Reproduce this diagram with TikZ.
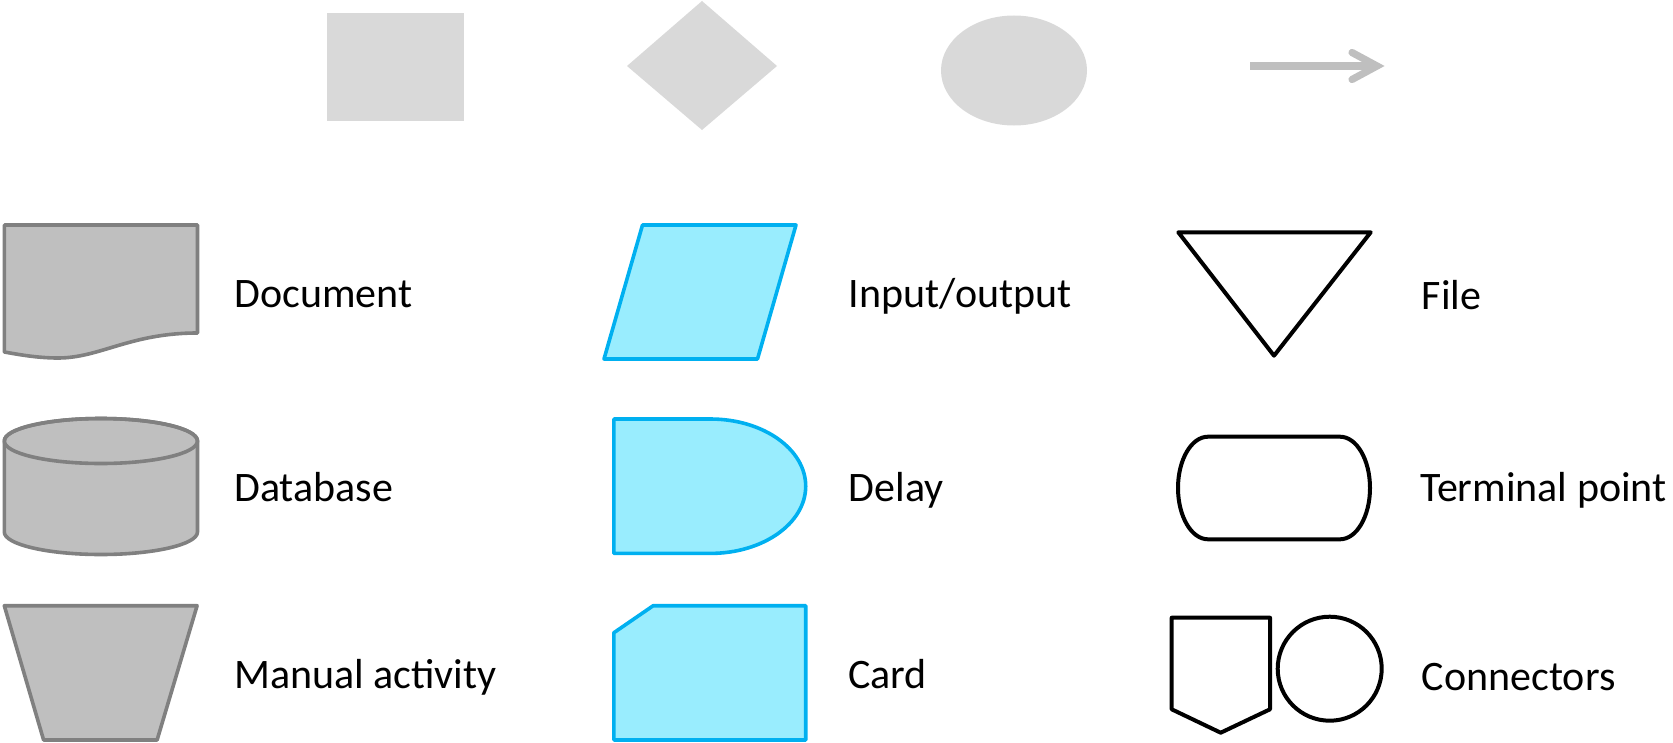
\documentclass[tikz,border=0pt]{standalone}
\usepackage{fontspec}
\setmainfont{Carlito}
\definecolor{topgray}{HTML}{D9D9D9}
\definecolor{arrowgray}{HTML}{BFBFBF}
\definecolor{shapegray}{HTML}{BFBFBF}
\definecolor{edgegray}{HTML}{808080}
\definecolor{cyanedge}{HTML}{00B0F0}
\definecolor{cyanfill}{RGB}{153,237,254}
\tikzset{
  graybox/.style={fill=shapegray,draw=edgegray,line width=2.7pt,line join=round},
  cyanbox/.style={fill=cyanfill,draw=cyanedge,line width=2.7pt,line join=round},
  blackbox/.style={draw=black,line width=3pt,line join=round},
  lbl/.style={anchor=base west,inner sep=0pt,font=\fontsize{31.5}{36}\selectfont},
}
\begin{document}
\begin{tikzpicture}[x=0.75pt,y=-0.75pt]
\useasboundingbox (0,0) rectangle (1673,742);

% basic symbols along the top
\fill[topgray] (326.5,12.8) rectangle (464,120.6);
\fill[topgray] (702,1) -- (777,66) -- (702,130) -- (627,66) -- cycle;
\fill[topgray] (1014,70.5) ellipse [x radius=73*0.75pt, y radius=55*0.75pt];
\coordinate (ar0) at (1250,66);
\coordinate (ar1) at (1374,66);
\draw[arrowgray,line width=5.4pt] (ar0) -- (ar1);
\draw[arrowgray,line width=5.4pt,line cap=round,line join=miter] (1352,52.5) -- (1377,66) -- (1352,79.5);

% left column
\draw[graybox] (4.3,225) -- (197.5,225) -- (197.5,333)
  .. controls (130,333) and (100,358) .. (58,358)
  .. controls (36,358) and (16,354) .. (4.3,352) -- cycle;
\node[lbl] (doc) at (234,307.5) {Document};

\draw[graybox] (4.3,441) -- (4.3,532)
  arc [start angle=180, end angle=360, x radius=96.6*0.75pt, y radius=22.5*0.75pt]
  -- (197.5,441)
  arc [start angle=0, end angle=180, x radius=96.6*0.75pt, y radius=22.5*0.75pt];
\draw[graybox,fill=none] (100.9,441) ellipse [x radius=96.6*0.75pt, y radius=22.5*0.75pt];
\node[lbl] (db) at (234,501) {Database};

\draw[graybox] (4.3,605.7) -- (197.1,605.7) -- (157.1,740) -- (43.6,740) -- cycle;
\node[lbl] (man) at (234,688.5) {Manual activity};

% middle column
\draw[cyanbox] (642.5,225) -- (796,225) -- (757.5,359) -- (604,359) -- cycle;
\node[lbl] (io) at (848.6,307.5) {Input/output};

\draw[cyanbox] (613.9,419) -- (710.4,419)
  arc [start angle=90, end angle=-90, x radius=95.3*0.75pt, y radius=67.2*0.75pt]
  -- (613.9,553.4) -- cycle;
\node[lbl] (delay) at (848.6,501) {Delay};

\draw[cyanbox] (613.9,632.7) -- (653.2,605.7) -- (805.7,605.7) -- (805.7,740) -- (613.9,740) -- cycle;
\node[lbl] (card) at (847.9,688.5) {Card};

% right column
\draw[blackbox] (1178.3,232.3) -- (1370.7,232.3) -- (1274,355.7) -- cycle;
\node[lbl] (file) at (1421.7,309) {File};

\draw[blackbox] (1208,436.7) -- (1340,436.7)
  arc [start angle=90, end angle=-90, x radius=30*0.75pt, y radius=51.3*0.75pt]
  -- (1208,539.3)
  arc [start angle=270, end angle=90, x radius=30*0.75pt, y radius=51.3*0.75pt] -- cycle;
\node[lbl] (term) at (1420,501.5) {Terminal point};

\draw[blackbox] (1171.7,617.7) -- (1270,617.7) -- (1270,709.3) -- (1220.7,732.7) -- (1171.7,709.3) -- cycle;
\draw[blackbox] (1329.7,668.7) circle [radius=52*0.75pt];
\node[lbl] (conn) at (1421.7,690) {Connectors};
\end{tikzpicture}
\end{document}
